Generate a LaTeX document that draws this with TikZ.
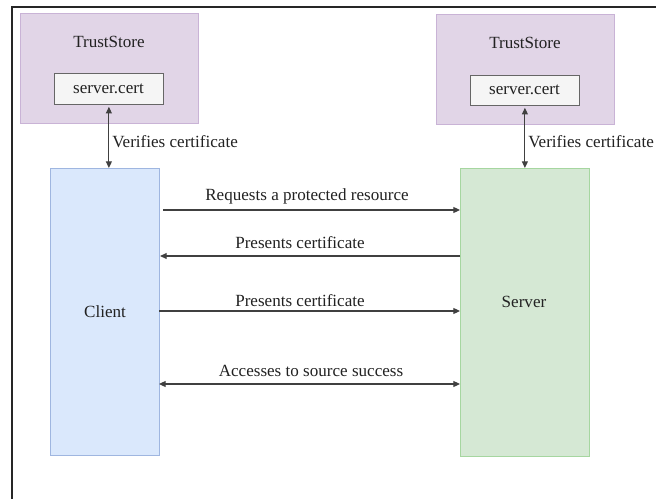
\documentclass[tikz,border=0pt]{standalone}
\usepackage{fontspec}
\setmainfont{Liberation Serif}
\usetikzlibrary{arrows.meta}
\definecolor{storefill}{HTML}{E1D5E7}
\definecolor{storeline}{HTML}{C9B3D6}
\definecolor{certfill}{HTML}{F5F5F5}
\definecolor{certline}{HTML}{666666}
\definecolor{clientfill}{HTML}{DAE8FC}
\definecolor{clientline}{HTML}{9FB6E0}
\definecolor{serverfill}{HTML}{D5E8D4}
\definecolor{serverline}{HTML}{A6D6A0}
\definecolor{txt}{HTML}{222222}
\tikzset{
  box/.style={draw, line width=0.8pt, inner sep=0pt, anchor=north west},
  store/.style={box, fill=storefill, draw=storeline},
  cert/.style={box, fill=certfill, draw=certline, line width=0.6pt},
  client/.style={box, fill=clientfill, draw=clientline},
  server/.style={box, fill=serverfill, draw=serverline},
  lbl/.style={text=txt, font=\fontsize{12.8}{14}\selectfont, inner sep=0pt},
  msg/.style={draw=black!75, line width=0.8pt, -{Triangle[length=5pt,width=4.5pt]}},
  msgboth/.style={draw=black!75, line width=0.8pt, {Triangle[length=5pt,width=4.5pt]}-{Triangle[length=5pt,width=4.5pt]}}
}
\begin{document}
\begin{tikzpicture}[x=0.75pt,y=-0.75pt]
\useasboundingbox (0,0) rectangle (656,499);
% outer frame
\draw[line width=1.2pt, black!85] (12,499) -- (12,7) -- (656,7);

% trust stores
\node[store, minimum width=178*0.75pt, minimum height=110*0.75pt] (lstore) at (20,13) {};
\node[lbl] at (109,42) {TrustStore};
\node[cert, minimum width=109*0.75pt, minimum height=31*0.75pt] (lcert) at (54,73) {};
\node[lbl] at (108.5,89) {server.cert};

\node[store, minimum width=178*0.75pt, minimum height=110*0.75pt] (rstore) at (436,14) {};
\node[lbl] at (525,43) {TrustStore};
\node[cert, minimum width=109*0.75pt, minimum height=30*0.75pt] (rcert) at (470,75) {};
\node[lbl] at (524.5,90) {server.cert};

% endpoints
\node[client, minimum width=109*0.75pt, minimum height=287*0.75pt] (client) at (50,168) {};
\node[lbl] at (105,312) {Client};
\node[server, minimum width=129*0.75pt, minimum height=288*0.75pt] (server) at (460,168) {};
\node[lbl] at (524,302) {Server};

% certificate checks
\draw[msgboth] ([yshift=-2*0.75pt]lcert.south) -- (client.north -| lcert.south);
\node[lbl, anchor=west] at (112,142) {Verifies certificate};
\draw[msgboth] ([yshift=-2*0.75pt]rcert.south) -- (server.north -| rcert.south);
\node[lbl, anchor=west] at (528,142) {Verifies certificate};

% messages
\coordinate (c1) at (163,210);
\draw[msg] (c1) -- (c1 -| server.west);
\node[lbl] at (307,196) {Requests a protected resource};
\coordinate (s2) at (460,256);
\draw[msg] (s2) -- (s2 -| client.east);
\node[lbl] at (300,243) {Presents certificate};
\coordinate (c3) at (159,311);
\draw[msg] (c3) -- (c3 -| server.west);
\node[lbl] at (300,301) {Presents certificate};
\coordinate (c4) at (159,384);
\draw[msgboth] (c4) -- (c4 -| server.west);
\node[lbl] at (311,371) {Accesses to source success};
\end{tikzpicture}
\end{document}
